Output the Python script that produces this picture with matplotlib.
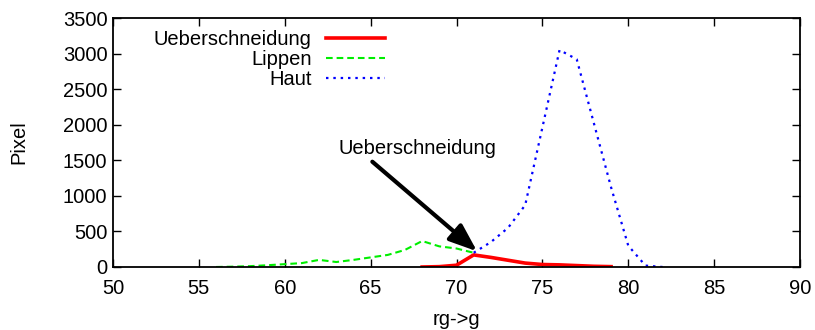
import matplotlib
matplotlib.use("Agg")
import matplotlib.pyplot as plt

# data
ueber_x = [68, 69, 70, 71, 72, 73, 74, 75, 76, 77, 78, 79]
ueber_y = [0, 5, 25, 170, 135, 95, 55, 35, 30, 20, 10, 5]

lippen_x = [56, 57, 58, 59, 60, 61, 62, 63, 64, 65, 66, 67, 68, 69, 70, 71]
lippen_y = [0, 5, 12, 25, 40, 55, 100, 70, 100, 135, 170, 240, 365, 290, 260, 200]

haut_x = [71, 72, 73, 74, 75, 76, 77, 78, 79, 80, 81, 82]
haut_y = [200, 350, 550, 870, 1960, 3050, 2920, 2020, 1120, 300, 20, 0]

xticks = [50, 55, 60, 65, 70, 75, 80, 85, 90]
yticks = [0, 500, 1000, 1500, 2000, 2500, 3000, 3500]

plt.rcParams['font.family'] = ['Liberation Sans', 'DejaVu Sans']
fs = 14.5

fig = plt.figure(figsize=(8.15, 3.3), dpi=100)
ax = fig.add_axes([113 / 815, 63 / 330, 687 / 815, 249 / 330])

ax.plot(ueber_x, ueber_y, color='#ff0000', lw=2.6, label='Ueberschneidung')
ax.plot(lippen_x, lippen_y, color='#00ee00', lw=1.5, ls=(0, (3.2, 1.9)), label='Lippen')
ax.plot(haut_x, haut_y, color='#0000ff', lw=1.6, ls=(0, (1.1, 2.2)), label='Haut')

ax.set_xlim(50, 90)
ax.set_ylim(0, 3500)
ax.set_xticks(xticks)
ax.set_yticks(yticks)
ax.tick_params(direction='in', length=6, width=1, top=True, right=True, labelsize=fs)
ax.tick_params(axis='x', pad=9)
ax.tick_params(axis='y', pad=4)
for s in ax.spines.values():
    s.set_linewidth(1.3)

ax.set_xlabel('rg->g', fontsize=fs, labelpad=8)
ax.set_ylabel('Pixel', fontsize=fs, labelpad=25)

# arrow + label
ax.annotate('', xy=(71.2, 220), xytext=(65.1, 1480),
            arrowprops=dict(arrowstyle='-|>,head_length=1.7,head_width=0.65',
                            color='black', lw=3, mutation_scale=10,
                            shrinkA=0, shrinkB=0))
ax.text(67.75, 1660, 'Ueberschneidung', fontsize=fs, ha='center', va='center')

leg = ax.legend(loc='upper right', bbox_to_anchor=(0.396, 0.952), frameon=False,
                markerfirst=False, fontsize=fs, handlelength=2.95,
                handletextpad=0.7, labelspacing=0.05, borderpad=0, borderaxespad=0)

fig.savefig('out.png', dpi=100)
